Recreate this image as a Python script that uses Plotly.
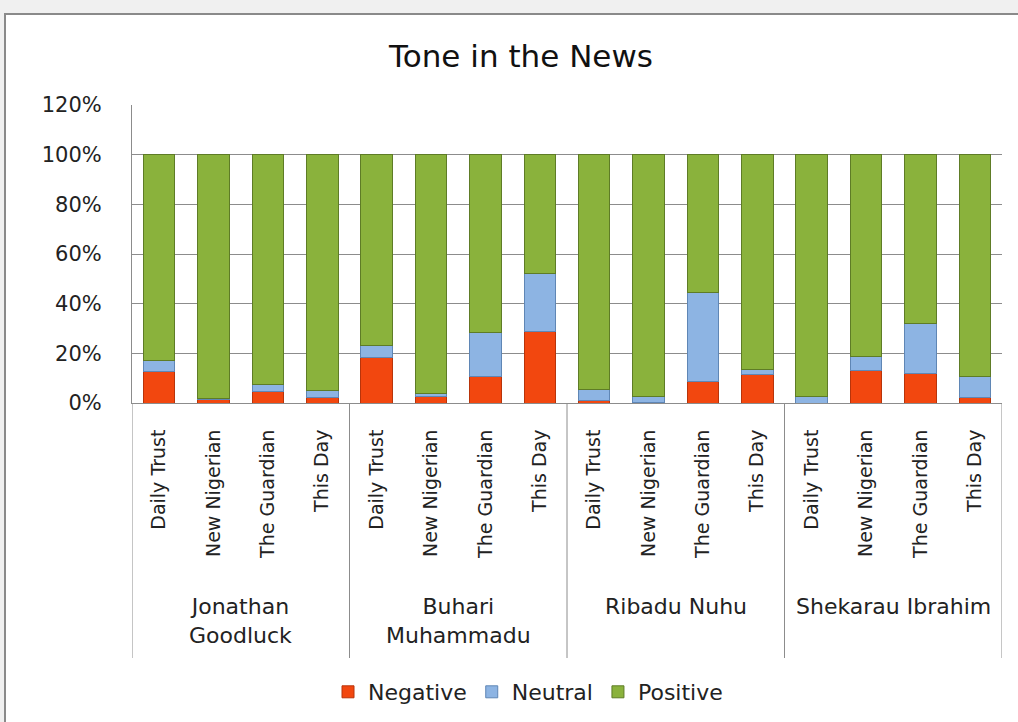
import plotly.graph_objects as go

# ---- data ----
candidates = ["Jonathan<br>Goodluck", "Buhari<br>Muhammadu", "Ribadu Nuhu", "Shekarau Ibrahim"]
papers = ["Daily Trust", "New Nigerian", "The Guardian", "This Day"]
negative = [12.5, 1.5, 4.5, 2.3, 18.4, 2.5, 10.6, 28.8, 1.2, 0.3, 8.5, 11.3, 0.0, 12.9, 12.0, 2.3]
neutral = [4.5, 0.5, 3.0, 2.7, 4.7, 1.5, 17.8, 23.2, 4.3, 2.5, 36.0, 2.0, 2.5, 6.0, 19.9, 8.3]
positive = [83.0, 98.0, 92.5, 95.0, 76.9, 96.0, 71.6, 48.0, 94.5, 97.2, 55.5, 86.7, 97.5, 81.1, 68.1, 89.4]
y_ticks = [0, 20, 40, 60, 80, 100, 120]
y_tick_labels = ["0%", "20%", "40%", "60%", "80%", "100%", "120%"]

keys = [f"{c}|{p}" for c in candidates for p in papers]
tick_text = [p for c in candidates for p in papers]

W, H = 1018, 722
L, R, T, B = 132, 16, 105, 319
pw, ph = W - L - R, H - T - B


def px_x(px):
    return (px - L) / pw


def px_y(py):
    return (H - B - py) / ph


FONT = "DejaVu Sans"

fig = go.Figure()
series = [
    ("Negative", negative, "#F2470F", "#B8340A"),
    ("Neutral", neutral, "#8DB4E3", "#5F86B5"),
    ("Positive", positive, "#8AB23C", "#5E7C26"),
]
for name, vals, col, edge in series:
    fig.add_trace(go.Bar(
        name=name, x=keys, y=vals,
        marker=dict(color=col, line=dict(color=edge, width=1)),
    ))

# frame (white chart area with grey border on grey window)
fig.add_shape(type="rect", xref="paper", yref="paper",
              x0=px_x(5), x1=px_x(1040), y0=px_y(760), y1=px_y(14),
              fillcolor="white", line=dict(color="#8a8a8a", width=2), layer="below")

# group dividers below the axis
n_per = len(papers)
for i in range(len(candidates) + 1):
    fig.add_shape(type="line", xref="x", yref="paper",
                  x0=i * n_per - 0.5, x1=i * n_per - 0.5,
                  y0=px_y(658), y1=0,
                  line=dict(color="#8c8c8c", width=1))

# group labels
for i, c in enumerate(candidates):
    fig.add_annotation(x=i * n_per + (n_per - 1) / 2, xref="x",
                       y=px_y(592), yref="paper", yanchor="top",
                       text=c, showarrow=False,
                       font=dict(family=FONT, size=22, color="#222"))

fig.update_layout(
    width=W, height=H,
    margin=dict(l=L, r=R, t=T, b=B, autoexpand=False),
    paper_bgcolor="#f0f0f0",
    plot_bgcolor="rgba(0,0,0,0)",
    barmode="stack",
    bargap=0.42,
    title=dict(text="Tone in the News", x=521 / W, xanchor="center",
               y=1 - 56 / H, yanchor="middle", xref="container", yref="container",
               font=dict(family=FONT, size=31, color="#111")),
    legend=dict(orientation="h", x=px_x(528), xanchor="center",
                y=px_y(692), yanchor="middle", traceorder="normal",
                font=dict(family=FONT, size=22, color="#222"),
                itemwidth=30,
                bgcolor="rgba(0,0,0,0)"),
    showlegend=True,
)
fig.update_xaxes(
    type="category", categoryorder="array", categoryarray=keys,
    tickmode="array", tickvals=keys, ticktext=tick_text,
    tickangle=-90, tickfont=dict(family=FONT, size=19, color="#222"),
    ticklabelstandoff=18,
    showgrid=False, showline=True, linecolor="#8c8c8c", linewidth=1,
    range=[-0.5, len(keys) - 0.5], zeroline=False,
)
fig.update_yaxes(
    range=[0, 120], tickmode="array", tickvals=y_ticks, ticktext=y_tick_labels,
    tickfont=dict(family=FONT, size=21, color="#222"),
    ticklabelstandoff=25,
    showgrid=True, gridcolor="#8c8c8c", gridwidth=1,
    showline=True, linecolor="#8c8c8c", linewidth=1,
    zeroline=False,
)

fig.write_html("out.html")
